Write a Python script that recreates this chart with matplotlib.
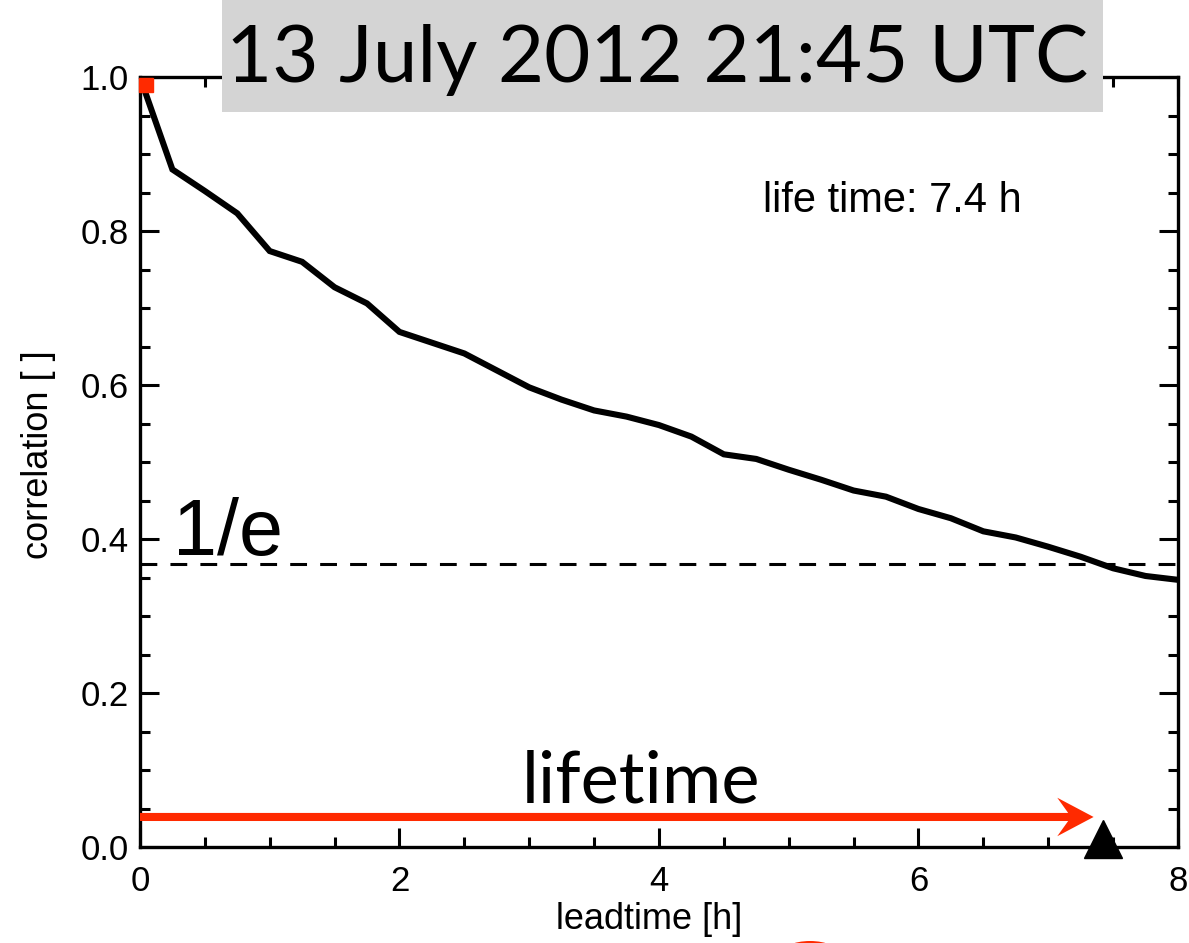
import numpy as np
import matplotlib
matplotlib.use('Agg')
import matplotlib.pyplot as plt
import matplotlib.patches as mpatches
from matplotlib.ticker import MultipleLocator, FormatStrFormatter

plt.rcParams['font.family'] = ['Liberation Sans', 'DejaVu Sans']

# data
leadtime = np.arange(0, 8.01, 0.25)
correlation = [1.000, 0.880, 0.852, 0.823, 0.774, 0.760, 0.727, 0.706,
               0.669, 0.655, 0.641, 0.619, 0.597, 0.581, 0.567, 0.559,
               0.548, 0.533, 0.510, 0.504, 0.490, 0.477, 0.463, 0.455,
               0.439, 0.427, 0.410, 0.402, 0.390, 0.377, 0.362, 0.352,
               0.347]
threshold = 1 / np.e
lifetime = 7.4
arrow_end = 7.35
arrow_y = 0.039
title = '13 July 2012 21:45 UTC'
red = '#ff2a00'

fig = plt.figure(figsize=(11.89, 9.43), dpi=100)
ax = fig.add_axes([0.1177, 0.1018, 0.8730, 0.8165])

ax.plot(leadtime, correlation, color='black', lw=4.4, solid_joinstyle='miter', zorder=3)
ax.axhline(threshold, color='black', lw=2.2, dashes=(5.5, 4.3), zorder=2)
ax.plot([0.05], [0.99], 's', color=red, ms=10.5, clip_on=False, zorder=4)
ax.plot([lifetime + 0.02], [0.011], '^', color='black', ms=27, clip_on=False, zorder=5)

# red lifetime arrow
ax.arrow(0, arrow_y, arrow_end, 0, width=0.0105, head_width=0.05,
         head_length=0.28, overhang=0.3, length_includes_head=True,
         color=red, lw=0, zorder=4)

ax.text(0.254, 0.379, '1/e', fontsize=57, ha='left', va='baseline')
ax.text(3.86, 0.058, 'lifetime', fontsize=52, family=['Lato', 'DejaVu Sans'],
        ha='center', va='baseline')
ax.text(4.80, 0.825, 'life time: 7.4 h', fontsize=30, ha='left', va='baseline')

ax.set_xlim(0, 8)
ax.set_ylim(0, 1)
ax.xaxis.set_major_locator(MultipleLocator(2))
ax.xaxis.set_minor_locator(MultipleLocator(0.5))
ax.yaxis.set_major_locator(MultipleLocator(0.2))
ax.yaxis.set_minor_locator(MultipleLocator(0.05))
ax.xaxis.set_major_formatter(FormatStrFormatter('%d'))
ax.yaxis.set_major_formatter(FormatStrFormatter('%.1f'))
ax.tick_params(which='both', direction='in', top=True, right=True, width=2.2,
               labelsize=25)
ax.tick_params(axis='x', which='major', length=14, pad=13)
ax.tick_params(axis='y', which='major', length=14, pad=8)
ax.tick_params(which='minor', length=7)
for s in ax.spines.values():
    s.set_linewidth(2.4)

ax.set_xlabel('leadtime [h]', fontsize=26)
ax.set_ylabel('correlation [ ]', fontsize=26)
ax.xaxis.set_label_coords(0.491, -0.072)
ax.yaxis.set_label_coords(-0.081, 0.509)

# title box
box = mpatches.Rectangle((222 / 1189, 1 - 112 / 943), (1103 - 222) / 1189, 112 / 943,
                         transform=fig.transFigure, facecolor='#d4d4d4',
                         edgecolor='none', zorder=10)
fig.add_artist(box)
fig.text(0.553, 0.913, title, fontsize=57.5, family=['Lato', 'DejaVu Sans'],
         ha='center', va='baseline', zorder=11)

# clipped red mark at the lower edge
blob = mpatches.Ellipse((810 / 1189, -12 / 943), 60 / 1189, 28 / 943,
                        transform=fig.transFigure, facecolor=red, edgecolor='none')
fig.add_artist(blob)

fig.savefig('out.png', dpi=100)
